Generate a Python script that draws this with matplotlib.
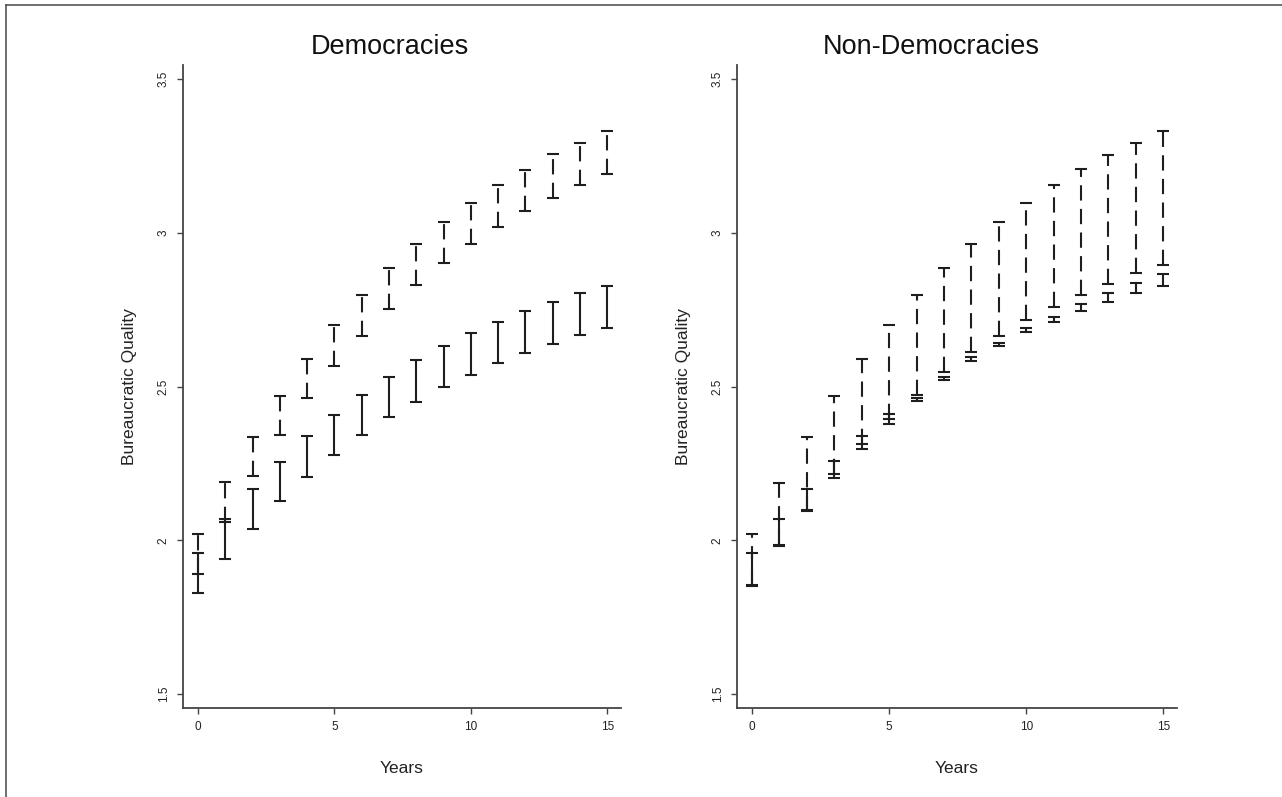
import matplotlib
matplotlib.use("Agg")
import matplotlib.pyplot as plt
from matplotlib.lines import Line2D
import numpy as np

plt.rcParams['font.family'] = ['Liberation Sans', 'DejaVu Sans']
plt.rcParams['lines.scale_dashes'] = False

years = list(range(16))
panel_titles = ["Democracies", "Non-Democracies"]
x_label = "Years"
y_label = "Bureaucratic Quality"
y_ticks = [1.5, 2.0, 2.5, 3.0, 3.5]
y_tick_labels = ["1.5", "2", "2.5", "3", "3.5"]
x_ticks = [0, 5, 10, 15]

# Democracies
dem_solid_low = [1.830, 1.941, 2.038, 2.127, 2.207, 2.278, 2.343, 2.401, 2.451, 2.498,
                 2.538, 2.576, 2.610, 2.640, 2.667, 2.690]
dem_solid_high = [1.958, 2.070, 2.168, 2.256, 2.339, 2.409, 2.474, 2.533, 2.586, 2.631,
                  2.674, 2.710, 2.746, 2.776, 2.805, 2.827]
dem_dash_low = [1.892, 2.061, 2.209, 2.343, 2.462, 2.568, 2.666, 2.753, 2.831, 2.901,
                2.963, 3.019, 3.071, 3.113, 3.155, 3.191]
dem_dash_high = [2.020, 2.189, 2.335, 2.471, 2.590, 2.701, 2.798, 2.885, 2.964, 3.034,
                 3.098, 3.156, 3.206, 3.256, 3.293, 3.331]

# Non-Democracies
non_solid_low = [1.853, 1.983, 2.100, 2.203, 2.297, 2.379, 2.452, 2.521, 2.584, 2.631,
                 2.678, 2.710, 2.745, 2.776, 2.803, 2.828]
non_solid_high = [1.959, 2.070, 2.168, 2.258, 2.338, 2.411, 2.463, 2.533, 2.595, 2.641,
                  2.690, 2.727, 2.770, 2.806, 2.837, 2.865]
non_dash_low = [1.856, 1.986, 2.097, 2.215, 2.313, 2.394, 2.472, 2.548, 2.612, 2.666,
                2.717, 2.758, 2.797, 2.835, 2.868, 2.897]
non_dash_high = [2.020, 2.186, 2.335, 2.471, 2.589, 2.702, 2.798, 2.885, 2.964, 3.034,
                 3.096, 3.156, 3.208, 3.253, 3.293, 3.331]

panels = [
    (dem_solid_low, dem_solid_high, dem_dash_low, dem_dash_high),
    (non_solid_low, non_solid_high, non_dash_low, non_dash_high),
]

W, H = 1282, 797
fig = plt.figure(figsize=(W / 100, H / 100), dpi=100)

axes_rects = [
    [183 / W, 1 - 708 / H, 438 / W, 643 / H],
    [737 / W, 1 - 708 / H, 440 / W, 643 / H],
]
title_centers = [390 / W, 931 / W]

bar_color = "#1e1e1e"
axis_color = "#444444"

def draw_range(ax, lo, hi, dashed):
    lo = np.asarray(lo)
    hi = np.asarray(hi)
    mid = (lo + hi) / 2
    err = np.vstack([mid - lo, hi - mid])
    eb = ax.errorbar(years, mid, yerr=err, fmt='none', ecolor=bar_color,
                     elinewidth=1.5, capsize=4, capthick=1.5)
    if dashed:
        eb[2][0].set_linestyle((0, (11, 6)))
        eb[2][0].set_capstyle('butt')

for rect, title, tx, data in zip(axes_rects, panel_titles, title_centers, panels):
    ax = fig.add_axes(rect)
    s_lo, s_hi, d_lo, d_hi = data
    draw_range(ax, s_lo, s_hi, dashed=False)
    draw_range(ax, d_lo, d_hi, dashed=True)
    ax.set_xlim(-0.55, 15.5)
    ax.set_ylim(1.455, 3.546)
    ax.set_xticks(x_ticks)
    ax.set_xticklabels([str(t) for t in x_ticks], fontsize=8.5)
    ax.set_yticks(y_ticks)
    ax.set_yticklabels(y_tick_labels, fontsize=8.5, rotation=90, va='center')
    for side in ['top', 'right']:
        ax.spines[side].set_visible(False)
    for side in ['left', 'bottom']:
        ax.spines[side].set_color(axis_color)
        ax.spines[side].set_linewidth(1.3)
    ax.tick_params(axis='both', direction='out', length=4.5, width=1.0,
                   color=axis_color, pad=5, labelcolor='#222222')
    fig.text(tx, 1 - 47 / H, title, fontsize=19.5, color='#111111',
             ha='center', va='center')
    ax.set_xlabel(x_label, fontsize=12.5, labelpad=20, color='#222222')
    ax.set_ylabel(y_label, fontsize=12.5, labelpad=15, color='#222222')

# figure frame (top and left edges)
fig.add_artist(Line2D([6 / W, 6 / W], [0, 1 - 5 / H], transform=fig.transFigure,
                      color='#555555', lw=1.2))
fig.add_artist(Line2D([6 / W, 1], [1 - 5 / H, 1 - 5 / H], transform=fig.transFigure,
                      color='#555555', lw=1.2))

fig.savefig("out.png", dpi=100)
